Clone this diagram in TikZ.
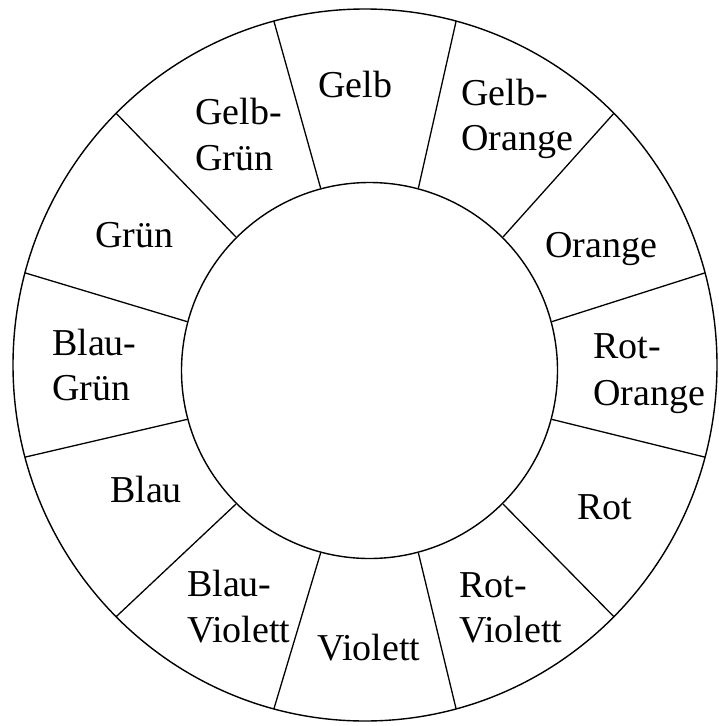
\documentclass[tikz,border=0pt]{standalone}
\usepackage{fontspec}
\setmainfont{Liberation Serif}
\begin{document}
\begin{tikzpicture}[x=1pt,y=-1pt,
  ring/.style={draw=black,line width=1.4pt},
  spoke/.style={draw=black,line width=1.3pt},
  lab/.style={anchor=base west,inner sep=0pt,font=\fontsize{38}{45}\selectfont}]
\useasboundingbox (0,0) rectangle (719,726);
\coordinate (oc) at (365,365);
\coordinate (ic) at (369.5,370.5);
\draw[ring] (oc) ellipse [x radius=352, y radius=356];
\draw[ring] (ic) circle [radius=188];
\foreach \a [count=\k] in {15,45,...,345}{
  \coordinate (in\k) at ([shift={(369.5,370.5)}]-\a:189);
  \coordinate (out\k) at ([shift={(365,365)}]-\a:352 and 356);
  \draw[spoke] (in\k) -- (out\k);
}
\node[lab] (gelb) at (318,97) {Gelb};
\node[lab] (goA) at (461,105) {Gelb-};
\node[lab] (goB) at (461,150) {Orange};
\node[lab] (orange) at (545,257) {Orange};
\node[lab] (roA) at (593,358) {Rot-};
\node[lab] (roB) at (593,405) {Orange};
\node[lab] (rot) at (577,519) {Rot};
\node[lab] (rvA) at (459,597) {Rot-};
\node[lab] (rvB) at (459,642) {Violett};
\node[lab] (violett) at (317,660) {Violett};
\node[lab] (bvA) at (187,596) {Blau-};
\node[lab] (bvB) at (187,642) {Violett};
\node[lab] (blau) at (110,502) {Blau};
\node[lab] (bgA) at (52,355) {Blau-};
\node[lab] (bgB) at (52,400) {Grün};
\node[lab] (gruen) at (95,247) {Grün};
\node[lab] (ggA) at (195,124) {Gelb-};
\node[lab] (ggB) at (195,170) {Grün};
\end{tikzpicture}
\end{document}
